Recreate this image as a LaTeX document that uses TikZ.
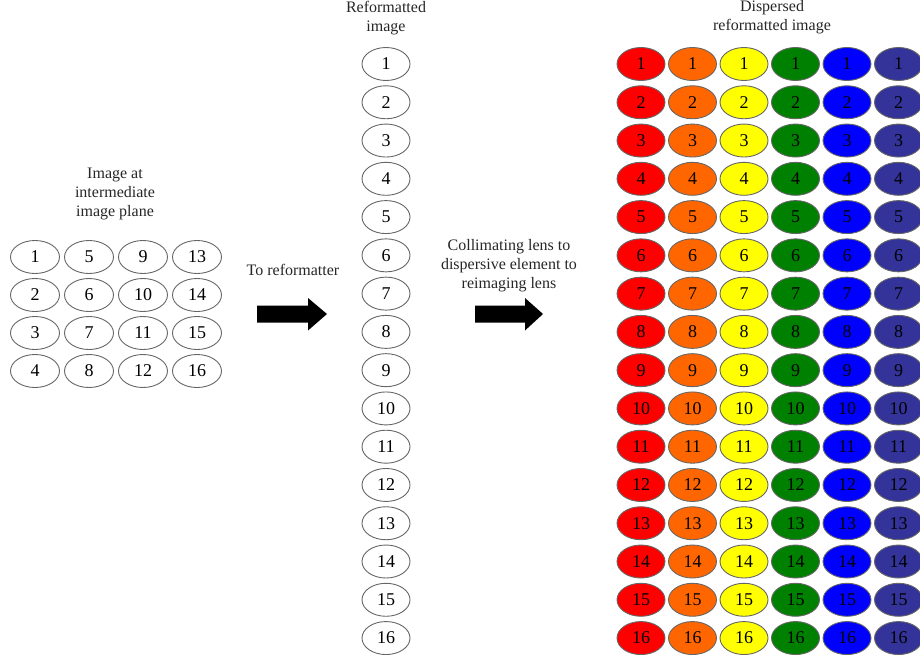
\documentclass[tikz,border=0pt]{standalone}
\usepackage{fontspec}
\setmainfont{Liberation Serif}
\usetikzlibrary{shapes.geometric}
\definecolor{cA}{HTML}{FF0000}
\definecolor{cB}{HTML}{FF6600}
\definecolor{cC}{HTML}{FFFF00}
\definecolor{cD}{HTML}{008000}
\definecolor{cE}{HTML}{0000FF}
\definecolor{cF}{HTML}{333399}
\begin{document}
\begin{tikzpicture}[x=1pt,y=-1pt,
  ell/.style={ellipse, draw=black!60, line width=0.9pt, minimum width=48pt, minimum height=33pt, inner sep=0pt, font=\fontsize{18}{18}\selectfont},
  lbl/.style={align=center, font=\fontsize{16}{19}\selectfont, text=black!85, inner sep=0pt},
  blockarrow/.style={fill=black}]
\useasboundingbox (0,0) rectangle (920,661);
% left grid
\foreach \c in {0,...,3} \foreach \r in {1,...,4} {
  \pgfmathtruncatemacro\n{\c*4+\r}
  \node[ell, minimum width=49pt] (L\n) at ({35+54*\c},{257+38*(\r-1)}) {\n};
}
\node[lbl] (t1) at (115,194) {Image at\\intermediate\\image plane};
% middle column
\foreach \i in {1,...,16} {
  \node[ell] (M\i) at (386,{64+38.27*(\i-1)}) {\i};
}
\node[lbl] (t2) at (386,18) {Reformatted\\image};
% right grid
\foreach \col [count=\k from 0] in {cA,cB,cC,cD,cE,cF} {
  \foreach \i in {1,...,16} {
    \node[ell, fill=\col] (R\k-\i) at ({641+51.5*\k},{64+38.27*(\i-1)}) {\raisebox{-1pt}{\i}};
  }
}
\node[lbl] (t3) at (772,17) {Dispersed\\reformatted image};
% labels
\node[lbl] (t4) at (293,270) {To reformatter};
\node[lbl] (t5) at (509,266) {Collimating lens to\\dispersive element to\\reimaging lens};
% block arrows
\fill[blockarrow] (257,305.5) -- (308,305.5) -- (308,298) -- (327,314) -- (308,330.5) -- (308,322.5) -- (257,322.5) -- cycle;
\fill[blockarrow] (475,305.5) -- (525,305.5) -- (525,298) -- (543,314) -- (525,330.5) -- (525,322.5) -- (475,322.5) -- cycle;
\end{tikzpicture}
\end{document}
